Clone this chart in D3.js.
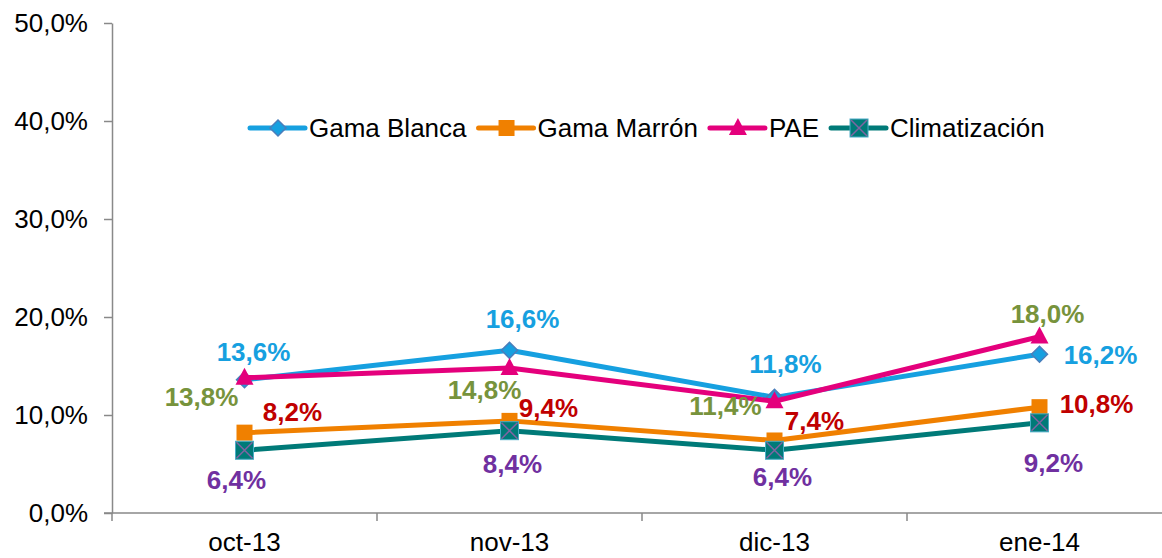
<!DOCTYPE html>
<html>
<head>
<meta charset="utf-8">
<script src="https://cdn.jsdelivr.net/npm/d3@7"></script>
<style>
  body { margin: 0; background: #fff; }
  svg { display: block; font-family: "Liberation Sans", Arial, sans-serif; }
</style>
</head>
<body>
<svg id="chart" width="1162" height="558"></svg>
<script>
// data
const months = ['oct-13', 'nov-13', 'dic-13', 'ene-14'];
const gamaBlanca = [13.6, 16.6, 11.8, 16.2];
const gamaMarron = [8.2, 9.4, 7.4, 10.8];
const pae = [13.8, 14.8, 11.4, 18.0];
const climatizacion = [6.4, 8.4, 6.4, 9.2];
const yTicks = [0, 10, 20, 30, 40, 50];

// label nudges (px from the point), like moved Excel labels
const blancaOff = [[9, -28], [13, -31], [11, -33], [61, 1]];
const marronOff = [[48, -21], [39, -13], [40, -20], [57, -3]];
const paeOff = [[-43, 19], [-25, 22], [-49, 5], [8, -23]];
const climaOff = [[-8, 30], [3, 33], [8, 27], [14, 40]];

const series = [
  { name: 'Gama Blanca', values: gamaBlanca, color: '#16A0E0', label: '#16A0E0', marker: 'diamond', off: blancaOff },
  { name: 'Gama Marrón', values: gamaMarron, color: '#F08000', label: '#C00000', marker: 'square', off: marronOff },
  { name: 'PAE', values: pae, color: '#E4007C', label: '#77933C', marker: 'triangle', off: paeOff },
  { name: 'Climatización', values: climatizacion, color: '#007A78', label: '#7030A0', marker: 'xsquare', off: climaOff }
];

const svg = d3.select('#chart');
const axisColor = '#898989';
const fs = 26;

const x = d3.scaleBand().domain(months).range([112, 1172]);
const y = d3.scaleLinear().domain([0, 50]).range([513, 23]);
const cx = d => x(d) + x.bandwidth() / 2;

const fmt = v => v.toFixed(1).replace('.', ',') + '%';

// y axis
const yAxis = svg.append('g').attr('transform', 'translate(112,0)')
  .call(d3.axisLeft(y).tickValues(yTicks).tickSize(8).tickSizeOuter(0).tickPadding(16).tickFormat(fmt));
yAxis.select('.domain').attr('stroke', axisColor).attr('stroke-width', 1.5);
yAxis.selectAll('.tick line').attr('stroke', axisColor).attr('stroke-width', 1.5);
yAxis.selectAll('.tick text').attr('font-size', fs).attr('fill', '#000').attr('font-family', null);

// x axis: ticks on the band edges
const xAxis = svg.append('g').attr('transform', 'translate(0,513)');
xAxis.append('line').attr('x1', 104).attr('x2', 1162).attr('stroke', axisColor).attr('stroke-width', 1.5);
xAxis.selectAll('line.tk').data(months.concat(['end'])).join('line')
  .attr('class', 'tk')
  .attr('x1', (d, i) => 112 + i * x.bandwidth())
  .attr('x2', (d, i) => 112 + i * x.bandwidth())
  .attr('y1', 0).attr('y2', 8)
  .attr('stroke', axisColor).attr('stroke-width', 1.5);
xAxis.selectAll('text').data(months).join('text')
  .attr('x', cx).attr('y', 38)
  .attr('text-anchor', 'middle').attr('font-size', fs).text(d => d);

const line = d3.line().x((d, i) => cx(months[i])).y(d => y(d));

function drawMarker(g, type, color) {
  if (type === 'diamond') {
    g.append('path').attr('d', 'M0,-8L8,0L0,8L-8,0Z')
      .attr('fill', color).attr('stroke', '#4A7EBB').attr('stroke-width', 1.5);
  } else if (type === 'square') {
    g.append('rect').attr('x', -8).attr('y', -8).attr('width', 16).attr('height', 16).attr('fill', color);
  } else if (type === 'triangle') {
    g.append('path').attr('d', 'M0,-10L9,7L-9,7Z').attr('fill', color);
  } else {
    g.append('rect').attr('x', -9).attr('y', -9).attr('width', 18).attr('height', 18)
      .attr('fill', color).attr('stroke', '#4BACC6').attr('stroke-width', 1);
    g.append('path').attr('d', 'M-8,-8L8,8M8,-8L-8,8').attr('stroke', '#8064A2').attr('stroke-width', 1.5);
  }
}

// lines and markers
series.forEach(s => {
  svg.append('path').datum(s.values).attr('d', line)
    .attr('fill', 'none').attr('stroke', s.color).attr('stroke-width', 5).attr('stroke-linejoin', 'round');
  s.values.forEach((v, i) => {
    const g = svg.append('g').attr('transform', `translate(${cx(months[i])},${y(v)})`);
    drawMarker(g, s.marker, s.color);
  });
});

// data labels
series.forEach(s => {
  svg.append('g').selectAll('text').data(s.values).join('text')
    .attr('x', (v, i) => cx(months[i]) + s.off[i][0])
    .attr('y', (v, i) => y(v) + s.off[i][1])
    .attr('dy', '0.35em')
    .attr('text-anchor', 'middle')
    .attr('font-size', fs).attr('font-weight', 'bold')
    .attr('fill', s.label)
    .text(fmt);
});

// legend
const legend = svg.append('g').attr('transform', 'translate(250,128)');
let lx = 0;
series.forEach(s => {
  const item = legend.append('g').attr('transform', `translate(${lx},0)`);
  item.append('line').attr('x1', 0).attr('x2', 55).attr('stroke', s.color)
    .attr('stroke-width', 5).attr('stroke-linecap', 'round');
  drawMarker(item.append('g').attr('transform', 'translate(28,0)'), s.marker, s.color);
  const t = item.append('text').attr('x', 59).attr('dy', '0.35em')
    .attr('font-size', fs).attr('fill', '#000').text(s.name);
  lx += 59 + t.node().getComputedTextLength() + 12;
});
</script>
</body>
</html>
